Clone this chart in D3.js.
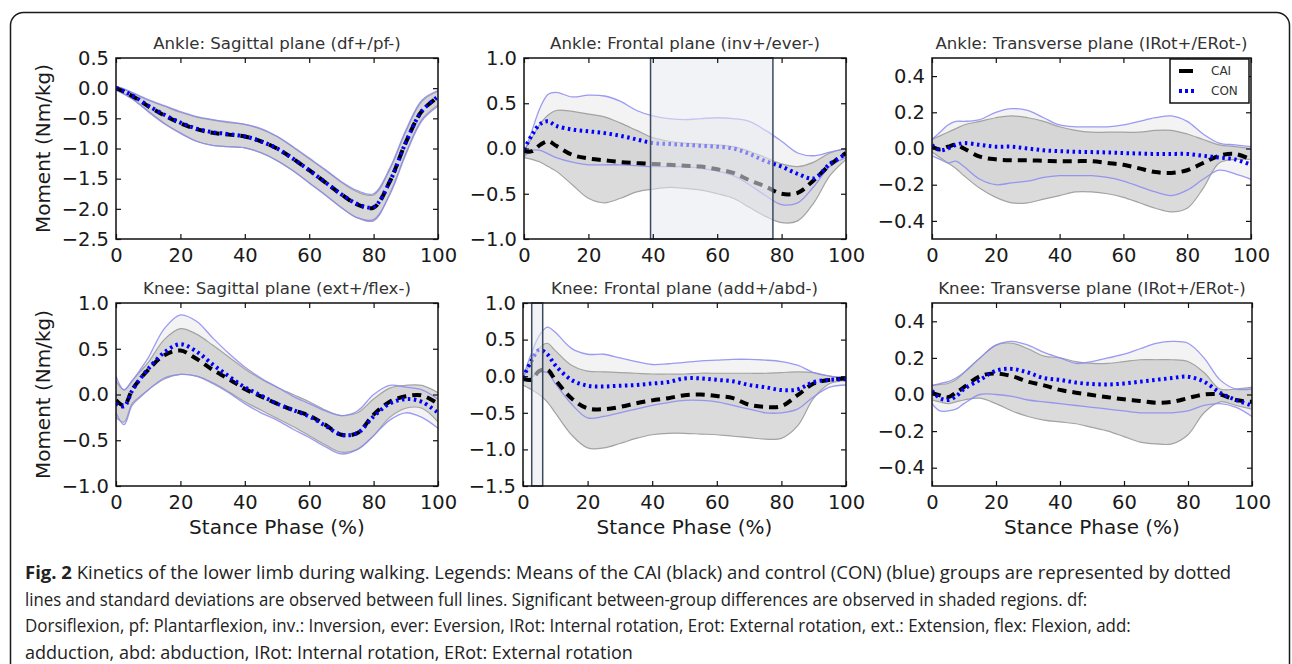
<!DOCTYPE html>
<html>
<head>
<meta charset="utf-8">
<script src="https://cdn.jsdelivr.net/npm/d3@7"></script>
<style>
  body { margin: 0; background: #fff; }
  svg { display: block; }
  .ax text { font-family: "DejaVu Sans", sans-serif; }
</style>
</head>
<body>
<svg id="fig" width="1292" height="664"></svg>
<script>
// stance phase (%) sample points
const stance = [0, 2.5, 5, 7.5, 10, 15, 20, 25, 30, 35, 40, 45, 50, 55, 60, 65, 70, 75, 80, 85, 90, 95, 100];
const xTicks = [0, 20, 40, 60, 80, 100];

// ankle sagittal (df+/pf-)
const ankleSagCai   = [0, -0.06, -0.13, -0.21, -0.30, -0.45, -0.58, -0.68, -0.74, -0.77, -0.80, -0.88, -1.00, -1.17, -1.36, -1.56, -1.76, -1.93, -1.98, -1.55, -0.90, -0.38, -0.15];
const ankleSagCon   = [0, -0.05, -0.12, -0.20, -0.29, -0.44, -0.57, -0.67, -0.73, -0.76, -0.80, -0.88, -1.00, -1.17, -1.36, -1.56, -1.76, -1.92, -1.97, -1.55, -0.90, -0.38, -0.14];
const ankleSagCaiUp = [0.03, -0.02, -0.08, -0.14, -0.20, -0.30, -0.40, -0.48, -0.53, -0.57, -0.60, -0.68, -0.80, -0.98, -1.17, -1.36, -1.56, -1.72, -1.77, -1.35, -0.72, -0.22, -0.05];
const ankleSagCaiLo = [-0.03, -0.09, -0.17, -0.27, -0.38, -0.58, -0.74, -0.88, -0.95, -0.97, -0.99, -1.07, -1.20, -1.37, -1.57, -1.77, -1.98, -2.15, -2.20, -1.75, -1.08, -0.52, -0.28];
const ankleSagConUp = [0.03, -0.01, -0.07, -0.13, -0.19, -0.29, -0.39, -0.47, -0.52, -0.56, -0.60, -0.67, -0.80, -0.97, -1.16, -1.35, -1.55, -1.70, -1.75, -1.33, -0.70, -0.20, -0.04];
const ankleSagConLo = [-0.03, -0.10, -0.18, -0.28, -0.39, -0.59, -0.75, -0.88, -0.95, -0.97, -0.99, -1.07, -1.20, -1.37, -1.57, -1.77, -1.98, -2.15, -2.18, -1.77, -1.10, -0.54, -0.30];
const ankleSagTicks = [0.5, 0, -0.5, -1, -1.5, -2, -2.5];

// ankle frontal (inv+/ever-)
const ankleFrCai   = [-0.03, -0.03, 0.04, 0.08, 0.03, -0.07, -0.11, -0.13, -0.15, -0.16, -0.17, -0.18, -0.19, -0.20, -0.23, -0.27, -0.35, -0.42, -0.50, -0.49, -0.35, -0.18, -0.05];
const ankleFrCon   = [-0.01, 0.15, 0.27, 0.30, 0.25, 0.21, 0.19, 0.17, 0.14, 0.10, 0.06, 0.05, 0.04, 0.03, 0.02, 0.00, -0.06, -0.14, -0.20, -0.28, -0.33, -0.17, -0.06];
const ankleFrCaiUp = [-0.03, 0.12, 0.27, 0.37, 0.42, 0.41, 0.38, 0.35, 0.28, 0.20, 0.12, 0.08, 0.06, 0.05, 0.04, 0.02, -0.03, -0.10, -0.17, -0.20, -0.15, -0.05, 0.00];
const ankleFrCaiLo = [-0.10, -0.12, -0.15, -0.20, -0.25, -0.40, -0.55, -0.60, -0.55, -0.48, -0.45, -0.43, -0.44, -0.46, -0.50, -0.55, -0.65, -0.75, -0.82, -0.80, -0.60, -0.30, -0.12];
const ankleFrConUp = [-0.05, 0.20, 0.45, 0.60, 0.62, 0.57, 0.59, 0.58, 0.52, 0.42, 0.36, 0.33, 0.32, 0.33, 0.34, 0.33, 0.30, 0.20, 0.08, -0.05, -0.08, -0.04, 0.00];
const ankleFrConLo = [-0.09, -0.02, -0.02, -0.06, -0.10, -0.15, -0.18, -0.18, -0.18, -0.19, -0.20, -0.20, -0.20, -0.22, -0.25, -0.30, -0.40, -0.52, -0.62, -0.60, -0.42, -0.20, -0.10];
const ankleFrTicks = [1, 0.5, 0, -0.5, -1];
const ankleFrSig = [39.3, 77.3];

// ankle transverse (IRot+/ERot-)
const ankleTrCai   = [0.01, -0.005, 0.01, 0.02, 0.00, -0.045, -0.06, -0.065, -0.065, -0.068, -0.07, -0.07, -0.07, -0.08, -0.09, -0.11, -0.13, -0.135, -0.12, -0.08, -0.04, -0.03, -0.06];
const ankleTrCon   = [0.02, -0.01, 0.00, 0.02, 0.03, 0.02, 0.01, 0.01, 0.00, -0.01, -0.015, -0.018, -0.02, -0.022, -0.025, -0.028, -0.03, -0.03, -0.03, -0.04, -0.05, -0.06, -0.09];
const ankleTrCaiUp = [0.05, 0.07, 0.09, 0.11, 0.13, 0.15, 0.17, 0.18, 0.17, 0.15, 0.12, 0.10, 0.09, 0.09, 0.09, 0.09, 0.10, 0.10, 0.08, 0.05, 0.02, 0.01, 0.00];
const ankleTrCaiLo = [-0.02, -0.05, -0.08, -0.11, -0.15, -0.22, -0.27, -0.30, -0.30, -0.28, -0.26, -0.24, -0.24, -0.25, -0.27, -0.30, -0.33, -0.35, -0.33, -0.22, -0.08, -0.06, -0.06];
const ankleTrConUp = [0.05, 0.09, 0.13, 0.15, 0.15, 0.16, 0.20, 0.22, 0.21, 0.17, 0.13, 0.12, 0.12, 0.12, 0.13, 0.15, 0.17, 0.18, 0.15, 0.08, 0.03, 0.02, 0.01];
const ankleTrConLo = [-0.04, -0.06, -0.08, -0.07, -0.10, -0.17, -0.20, -0.19, -0.18, -0.16, -0.15, -0.15, -0.15, -0.16, -0.18, -0.21, -0.24, -0.26, -0.23, -0.17, -0.12, -0.14, -0.17];
const rotTicks = [0.4, 0.2, 0, -0.2, -0.4];

// knee sagittal (ext+/flex-)
const kneeSagCai   = [-0.06, -0.12, 0.05, 0.17, 0.27, 0.43, 0.48, 0.39, 0.27, 0.17, 0.06, -0.02, -0.10, -0.17, -0.23, -0.33, -0.44, -0.42, -0.22, -0.08, -0.02, -0.01, -0.10];
const kneeSagCon   = [-0.10, -0.13, 0.04, 0.17, 0.28, 0.46, 0.55, 0.47, 0.33, 0.20, 0.08, -0.01, -0.10, -0.17, -0.24, -0.34, -0.44, -0.42, -0.24, -0.10, -0.05, -0.08, -0.20];
const kneeSagCaiUp = [0.15, 0.05, 0.15, 0.25, 0.35, 0.60, 0.72, 0.66, 0.54, 0.41, 0.28, 0.17, 0.08, 0.00, -0.08, -0.17, -0.23, -0.20, -0.05, 0.07, 0.10, 0.10, 0.02];
const kneeSagCaiLo = [-0.25, -0.30, -0.10, -0.02, 0.05, 0.17, 0.22, 0.20, 0.13, 0.03, -0.08, -0.17, -0.26, -0.35, -0.45, -0.55, -0.63, -0.60, -0.45, -0.25, -0.15, -0.15, -0.30];
const kneeSagConUp = [0.20, 0.05, 0.15, 0.27, 0.40, 0.72, 0.87, 0.80, 0.62, 0.45, 0.30, 0.18, 0.08, -0.02, -0.10, -0.18, -0.23, -0.18, 0.00, 0.10, 0.08, 0.05, -0.05];
const kneeSagConLo = [-0.20, -0.33, -0.12, -0.03, 0.05, 0.18, 0.22, 0.20, 0.12, 0.02, -0.10, -0.20, -0.28, -0.38, -0.47, -0.57, -0.65, -0.60, -0.45, -0.28, -0.20, -0.25, -0.37];
const kneeSagTicks = [1, 0.5, 0, -0.5, -1];

// knee frontal (add+/abd-)
const kneeFrCai   = [-0.03, -0.05, 0.07, 0.09, -0.05, -0.30, -0.44, -0.45, -0.42, -0.37, -0.33, -0.30, -0.26, -0.25, -0.27, -0.30, -0.39, -0.42, -0.41, -0.26, -0.10, -0.05, -0.03];
const kneeFrCon   = [-0.02, 0.20, 0.36, 0.30, 0.15, -0.05, -0.13, -0.14, -0.13, -0.12, -0.10, -0.08, -0.03, -0.03, -0.05, -0.07, -0.12, -0.15, -0.19, -0.18, -0.08, -0.05, -0.04];
const kneeFrCaiUp = [-0.03, 0.20, 0.38, 0.45, 0.35, 0.15, 0.07, 0.06, 0.05, 0.04, 0.03, 0.03, 0.03, 0.04, 0.04, 0.04, 0.04, 0.04, 0.05, 0.06, 0.05, 0.00, -0.03];
const kneeFrCaiLo = [-0.12, -0.18, -0.25, -0.35, -0.50, -0.80, -0.98, -0.98, -0.92, -0.85, -0.80, -0.78, -0.78, -0.79, -0.80, -0.82, -0.84, -0.86, -0.85, -0.68, -0.30, -0.10, -0.06];
const kneeFrConUp = [-0.02, 0.30, 0.55, 0.67, 0.60, 0.38, 0.30, 0.30, 0.25, 0.20, 0.16, 0.17, 0.19, 0.21, 0.22, 0.23, 0.23, 0.22, 0.20, 0.15, 0.05, 0.00, -0.02];
const kneeFrConLo = [-0.08, -0.02, 0.05, 0.05, -0.10, -0.38, -0.57, -0.55, -0.50, -0.45, -0.40, -0.36, -0.33, -0.33, -0.35, -0.40, -0.45, -0.50, -0.50, -0.45, -0.28, -0.15, -0.12];
const kneeFrTicks = [1, 0.5, 0, -0.5, -1, -1.5];
const kneeFrSig = [2.7, 6.1];

// knee transverse (IRot+/ERot-)
const kneeTrCai   = [0.007, -0.005, -0.015, 0.01, 0.04, 0.10, 0.115, 0.10, 0.07, 0.05, 0.025, 0.01, -0.003, -0.015, -0.026, -0.035, -0.045, -0.04, -0.02, 0.00, 0.00, -0.03, -0.04];
const kneeTrCon   = [0.02, -0.02, -0.03, -0.01, 0.03, 0.08, 0.13, 0.14, 0.12, 0.09, 0.08, 0.065, 0.057, 0.055, 0.06, 0.07, 0.08, 0.09, 0.097, 0.07, 0.01, -0.03, -0.06];
const kneeTrCaiUp = [0.05, 0.055, 0.06, 0.08, 0.12, 0.20, 0.27, 0.28, 0.25, 0.21, 0.20, 0.18, 0.17, 0.17, 0.18, 0.19, 0.19, 0.19, 0.18, 0.12, 0.03, 0.03, 0.04];
const kneeTrCaiLo = [-0.03, -0.04, -0.05, -0.04, -0.03, -0.02, -0.05, -0.09, -0.12, -0.14, -0.15, -0.16, -0.18, -0.20, -0.23, -0.26, -0.27, -0.27, -0.22, -0.10, -0.04, -0.06, -0.08];
const kneeTrConUp = [0.05, 0.06, 0.07, 0.09, 0.12, 0.20, 0.27, 0.29, 0.27, 0.23, 0.20, 0.17, 0.18, 0.20, 0.22, 0.25, 0.28, 0.29, 0.28, 0.20, 0.08, 0.03, 0.03];
const kneeTrConLo = [-0.05, -0.09, -0.09, -0.08, -0.05, 0.00, 0.00, -0.01, -0.03, -0.04, -0.05, -0.06, -0.07, -0.08, -0.09, -0.10, -0.10, -0.10, -0.09, -0.06, -0.05, -0.07, -0.12];

const groups = ["CAI", "CON"];

const caption = [
  [["Fig. 2", true], [" Kinetics of the lower limb during walking. Legends: Means of the CAI (black) and control (CON) (blue) groups are represented by dotted", false]],
  [["lines and standard deviations are observed between full lines. Significant between-group differences are observed in shaded regions. df:", false]],
  [["Dorsiflexion, pf: Plantarflexion, inv.: Inversion, ever: Eversion, IRot: Internal rotation, Erot: External rotation, ext.: Extension, flex: Flexion, add:", false]],
  [["adduction, abd: abduction, IRot: Internal rotation, ERot: External rotation", false]]
];
// right end of each caption line in the figure
const captionEnds = [1232, 1088, 1131, 633];

// panel layout
const panels = [
  { title: "Ankle: Sagittal plane (df+/pf-)", box: [116, 438, 58, 239], dom: [-2.5, 0.5], ticks: ankleSagTicks,
    cai: ankleSagCai, con: ankleSagCon, caiUp: ankleSagCaiUp, caiLo: ankleSagCaiLo, conUp: ankleSagConUp, conLo: ankleSagConLo, ylab: true },
  { title: "Ankle: Frontal plane (inv+/ever-)", box: [524, 846, 58, 239], dom: [-1, 1], ticks: ankleFrTicks, sig: ankleFrSig,
    cai: ankleFrCai, con: ankleFrCon, caiUp: ankleFrCaiUp, caiLo: ankleFrCaiLo, conUp: ankleFrConUp, conLo: ankleFrConLo },
  { title: "Ankle: Transverse plane (IRot+/ERot-)", box: [932, 1251, 58, 239], dom: [-0.5, 0.5], ticks: rotTicks, legend: true,
    cai: ankleTrCai, con: ankleTrCon, caiUp: ankleTrCaiUp, caiLo: ankleTrCaiLo, conUp: ankleTrConUp, conLo: ankleTrConLo },
  { title: "Knee: Sagittal plane (ext+/flex-)", box: [116, 438, 303, 486], dom: [-1, 1], ticks: kneeSagTicks, ylab: true, xlab: true,
    cai: kneeSagCai, con: kneeSagCon, caiUp: kneeSagCaiUp, caiLo: kneeSagCaiLo, conUp: kneeSagConUp, conLo: kneeSagConLo },
  { title: "Knee: Frontal plane (add+/abd-)", box: [523, 846, 303, 486], dom: [-1.5, 1], ticks: kneeFrTicks, sig: kneeFrSig, xlab: true,
    cai: kneeFrCai, con: kneeFrCon, caiUp: kneeFrCaiUp, caiLo: kneeFrCaiLo, conUp: kneeFrConUp, conLo: kneeFrConLo },
  { title: "Knee: Transverse plane (IRot+/ERot-)", box: [932, 1252, 303, 486], dom: [-0.5, 0.5], ticks: rotTicks, xlab: true,
    cai: kneeTrCai, con: kneeTrCon, caiUp: kneeTrCaiUp, caiLo: kneeTrCaiLo, conUp: kneeTrConUp, conLo: kneeTrConLo }
];

const svg = d3.select("#fig");
const defs = svg.append("defs");

// outer figure frame
svg.append("rect")
  .attr("x", 10.5).attr("y", 12.5).attr("width", 1279).attr("height", 720)
  .attr("rx", 13).attr("fill", "none").attr("stroke", "#1a1a1a").attr("stroke-width", 1.5);

const curve = d3.curveCatmullRom.alpha(0.5);
const fmt = d3.format(".1f");

panels.forEach(function (p, k) {
  const [l, r, t, b] = p.box;
  const x = d3.scaleLinear().domain([0, 100]).range([l, r]);
  const y = d3.scaleLinear().domain(p.dom).range([b, t]);
  const g = svg.append("g").attr("class", "ax");

  defs.append("clipPath").attr("id", "clip" + k)
    .append("rect").attr("x", l).attr("y", t).attr("width", r - l).attr("height", b - t);
  const plot = g.append("g").attr("clip-path", "url(#clip" + k + ")");

  const band = (up, lo) => d3.area()
    .x((d, i) => x(stance[i])).y0((d, i) => y(lo[i])).y1((d, i) => y(up[i])).curve(curve)(stance);
  const line = vals => d3.line()
    .x((d, i) => x(stance[i])).y((d, i) => y(vals[i])).curve(curve)(stance);

  // sd bands
  plot.append("path").attr("d", band(p.conUp, p.conLo)).attr("fill", "#f3f3f3");
  plot.append("path").attr("d", band(p.caiUp, p.caiLo)).attr("fill", "#bdbdbd").attr("fill-opacity", 0.55);
  [p.caiUp, p.caiLo].forEach(v => plot.append("path").attr("d", line(v))
    .attr("fill", "none").attr("stroke", "#a3a3a3").attr("stroke-width", 1.2));
  [p.conUp, p.conLo].forEach(v => plot.append("path").attr("d", line(v))
    .attr("fill", "none").attr("stroke", "#8a8af2").attr("stroke-width", 1.3).attr("stroke-opacity", 0.85));

  // means
  plot.append("path").attr("d", line(p.cai)).attr("fill", "none")
    .attr("stroke", "#000").attr("stroke-width", 4).attr("stroke-dasharray", "9,6");
  plot.append("path").attr("d", line(p.con)).attr("fill", "none")
    .attr("stroke", "#0000ff").attr("stroke-width", 4).attr("stroke-dasharray", "2.5,3.5");

  // significant region
  if (p.sig) {
    g.append("rect")
      .attr("x", x(p.sig[0])).attr("y", t).attr("width", x(p.sig[1]) - x(p.sig[0])).attr("height", b - t)
      .attr("fill", "#e8eaf0").attr("fill-opacity", 0.55)
      .attr("stroke", "#3b4a5e").attr("stroke-width", 1.5);
  }

  // axes, ticks pointing inward on all four sides
  const ax = (a, pos) => {
    const sel = g.append("g").attr("transform", pos).call(a);
    sel.select(".domain").remove();
    sel.selectAll("line").attr("stroke", "#111").attr("stroke-width", 1.2);
    sel.selectAll("text").attr("fill", "#1a1a1a").attr("font-size", 19.5);
    return sel;
  };
  ax(d3.axisBottom(x).tickValues(xTicks).tickSizeInner(-5).tickSizeOuter(0).tickPadding(9), `translate(0,${b})`);
  ax(d3.axisTop(x).tickValues(xTicks).tickSizeInner(-5).tickSizeOuter(0).tickFormat(""), `translate(0,${t})`);
  ax(d3.axisLeft(y).tickValues(p.ticks).tickSizeInner(-5).tickSizeOuter(0).tickPadding(7).tickFormat(fmt), `translate(${l},0)`);
  ax(d3.axisRight(y).tickValues(p.ticks).tickSizeInner(-5).tickSizeOuter(0).tickFormat(""), `translate(${r},0)`);

  g.append("rect").attr("x", l).attr("y", t).attr("width", r - l).attr("height", b - t)
    .attr("fill", "none").attr("stroke", "#111").attr("stroke-width", 1.5);

  g.append("text").attr("x", (l + r) / 2).attr("y", t - 15).attr("dy", "0.35em")
    .attr("text-anchor", "middle").attr("font-size", 16.6).attr("fill", "#333").text(p.title);

  if (p.ylab) {
    g.append("text").attr("transform", `translate(43,${(t + b) / 2}) rotate(-90)`).attr("dy", "0.35em")
      .attr("text-anchor", "middle").attr("font-size", 20).attr("fill", "#1a1a1a").text("Moment (Nm/kg)");
  }
  if (p.xlab) {
    g.append("text").attr("x", (l + r) / 2).attr("y", b + 41).attr("dy", "0.35em")
      .attr("text-anchor", "middle").attr("font-size", 20).attr("fill", "#1a1a1a").text("Stance Phase (%)");
  }

  if (p.legend) {
    const lg = g.append("g").attr("transform", `translate(${r - 81},${t + 1})`);
    lg.append("rect").attr("width", 79).attr("height", 44).attr("fill", "#fff")
      .attr("stroke", "#111").attr("stroke-width", 1.5);
    groups.forEach(function (name, i) {
      const yy = 12 + i * 20;
      lg.append("line").attr("x1", 9).attr("x2", 26).attr("y1", yy).attr("y2", yy)
        .attr("stroke", i ? "#0000ff" : "#000").attr("stroke-width", 4)
        .attr("stroke-dasharray", i ? "3,3" : "14,6");
      lg.append("text").attr("x", 41).attr("y", yy).attr("dy", "0.35em")
        .attr("font-size", 12).attr("fill", "#333").text(name);
    });
  }
});

// caption, each line squeezed to the width it has in the figure
const cap = svg.append("g").attr("font-family", "'Open Sans', sans-serif").attr("font-size", 18).attr("fill", "#222");
caption.forEach(function (parts, i) {
  const tx = cap.append("text").attr("x", 0).attr("y", 0);
  parts.forEach(([s, bold]) => tx.append("tspan").attr("font-weight", bold ? 700 : 400).text(s));
  const w = tx.node().getComputedTextLength();
  const sx = (captionEnds[i] - 25) / w;
  tx.attr("transform", `translate(25,${579 + i * 26.7}) scale(${sx},1)`);
});
</script>
</body>
</html>
